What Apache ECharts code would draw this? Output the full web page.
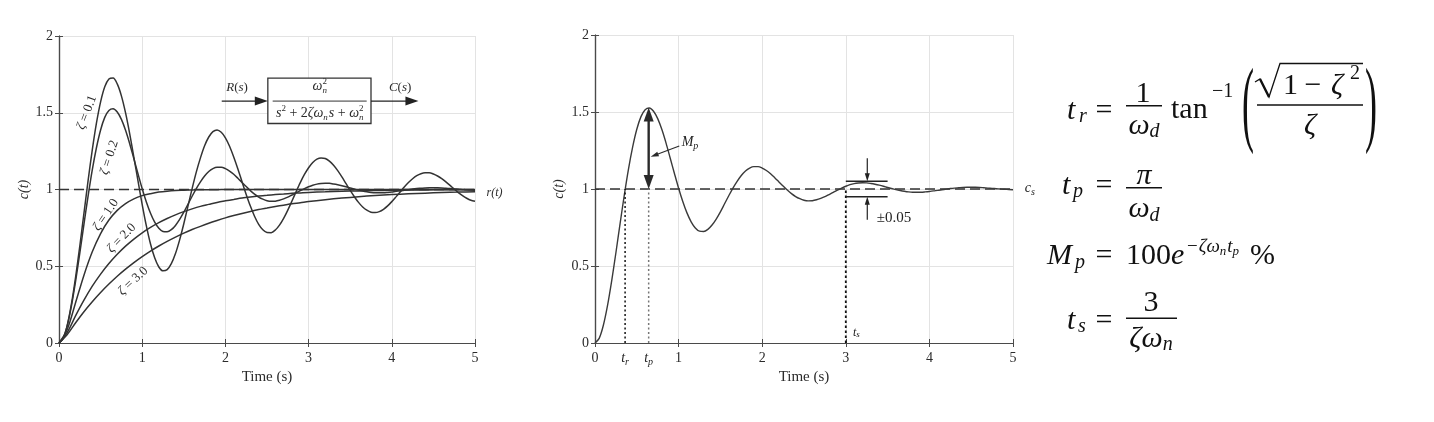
<!DOCTYPE html>
<html><head><meta charset="utf-8">
<script src="https://cdn.jsdelivr.net/npm/echarts@6/dist/echarts.min.js"></script>
<style>html,body{margin:0;padding:0;background:#fff}#c{width:1434px;height:422px}</style>
</head><body><div id="c"></div>
<script>
// ---------------- data ----------------
const timeFine = [0,0.05,0.1,0.15,0.2,0.25,0.3,0.35,0.4,0.45,0.5,0.55,0.6,0.65,0.7,0.75,0.8,0.85,0.9,0.95,1,
1.05,1.1,1.15,1.2,1.25,1.3,1.35,1.4,1.45,1.5,1.55,1.6,1.65,1.7,1.75,1.8,1.85,1.9,1.95,2,
2.05,2.1,2.15,2.2,2.25,2.3,2.35,2.4,2.45,2.5,2.55,2.6,2.65,2.7,2.75,2.8,2.85,2.9,2.95,3,
3.05,3.1,3.15,3.2,3.25,3.3,3.35,3.4,3.45,3.5,3.55,3.6,3.65,3.7,3.75,3.8,3.85,3.9,3.95,4,
4.05,4.1,4.15,4.2,4.25,4.3,4.35,4.4,4.45,4.5,4.55,4.6,4.65,4.7,4.75,4.8,4.85,4.9,4.95,5];
const timeCoarse = [0,0.1,0.2,0.3,0.4,0.5,0.6,0.7,0.8,0.9,1,1.1,1.2,1.3,1.4,1.5,1.6,1.7,1.8,1.9,2,
2.1,2.2,2.3,2.4,2.5,2.6,2.7,2.8,2.9,3,3.2,3.4,3.6,3.8,4,4.2,4.4,4.6,4.8,5];

const zeta01 = [0,0.031,0.118,0.256,0.431,0.632,0.846,1.059,1.258,1.432,1.571,1.669,1.720,1.726,1.688,1.610,1.499,1.363,1.210,1.054,0.902,
0.763,0.645,0.555,0.495,0.470,0.478,0.517,0.583,0.672,0.777,0.892,1.006,1.113,1.206,1.285,1.342,1.377,1.388,1.373,1.337,
1.282,1.212,1.134,1.050,0.968,0.892,0.826,0.773,0.738,0.720,0.719,0.736,0.768,0.812,0.866,0.925,0.986,1.045,1.098,1.142,
1.176,1.198,1.206,1.202,1.185,1.158,1.123,1.082,1.038,0.994,0.953,0.916,0.886,0.865,0.852,0.850,0.856,0.871,0.893,0.921,
0.952,0.984,1.016,1.045,1.070,1.090,1.103,1.109,1.109,1.101,1.088,1.071,1.050,1.027,1.003,0.980,0.960,0.943,0.930,0.923];
const zeta02 = [0,0.030,0.115,0.244,0.405,0.586,0.775,0.959,1.128,1.272,1.388,1.470,1.515,1.526,1.505,1.457,1.386,1.298,1.200,1.101,1.005,
0.919,0.845,0.787,0.747,0.726,0.724,0.738,0.766,0.805,0.852,0.904,0.956,1.006,1.050,1.088,1.117,1.136,1.145,1.145,1.136,
1.120,1.099,1.073,1.046,1.019,0.993,0.970,0.951,0.937,0.927,0.923,0.924,0.930,0.939,0.950,0.964,0.978,0.993,1.006,1.018,
1.028,1.035,1.039,1.041,1.040,1.036,1.031,1.025,1.018,1.010,1.003,0.996,0.990,0.985,0.981,0.979,0.979,0.979,0.981,0.984,
0.988,0.991,0.995,0.999,1.003,1.006,1.008,1.010,1.011,1.011,1.011,1.010,1.008,1.006,1.004,1.002,1.000,0.998,0.997,0.995];
const zeta10 = [0,0.090,0.264,0.442,0.594,0.713,0.801,0.864,0.908,0.939,0.960,0.973,0.983,0.989,0.993,0.995,0.997,0.998,0.999,0.999,1.000,
1.000,1.000,1.000,1.000,1.000,1.000,1.000,1.000,1.000,1.000,1.000,1.000,1.000,1.000,1.000,1.000,1.000,1.000,1.000,1.000];
const zeta20 = [0,0.070,0.178,0.279,0.370,0.449,0.518,0.578,0.631,0.677,0.718,0.753,0.784,0.811,0.835,0.856,0.874,0.890,0.903,0.916,0.926,
0.935,0.944,0.951,0.957,0.962,0.967,0.971,0.975,0.978,0.981,0.985,0.989,0.991,0.993,0.995,0.996,0.997,0.998,0.998,0.999];
const zeta30 = [0,0.056,0.132,0.204,0.269,0.329,0.384,0.435,0.481,0.524,0.563,0.599,0.632,0.662,0.690,0.716,0.739,0.760,0.780,0.798,0.815,
0.830,0.844,0.857,0.869,0.879,0.889,0.898,0.907,0.914,0.922,0.934,0.944,0.953,0.961,0.967,0.972,0.976,0.980,0.983,0.986];
const stepResponse = zeta02;            // right panel: same under-damped response
const zetaNames = ['0.1','0.2','1.0','2.0','3.0'];
const refTime = [0, 5];
const refLevel = [1, 1];
const xTicks = [0,1,2,3,4,5];
const yTicks = [0,0.5,1,1.5,2];
const riseTime = 0.36, peakTime = 0.642, peakValue = 1.53, settleTime = 3.0;
const bandHigh = 1.05, bandLow = 0.95, bandEnd = 3.5;

// ---------------- helpers ----------------
const SERIF = '"Liberation Serif","Times New Roman",serif';
const INK = '#111', TXT = '#2b2b2b', CURVE = '#333';
function font(size, it){ return (it ? 'italic ' : '') + size + 'px ' + SERIF; }
const mc = document.createElement('canvas').getContext('2d');
function mw(s, size, it){ mc.font = font(size, it); return mc.measureText(s).width; }
function tx(s, x, base, size, it, align, color){
  return {type:'text', x:x, y:base - 0.24*size, z:110, silent:true,
    style:{text:s, font:font(size,it), fill:color||INK, align:align||'left', verticalAlign:'middle'}};
}
// items: [text, size, italic, dy, gapBefore]
function run(x, base, items, align, color){
  let total = 0;
  items.forEach(it => { total += (it[4]||0) + mw(it[0], it[1], it[2]); });
  let cx = align === 'center' ? x - total/2 : (align === 'right' ? x - total : x);
  const out = [];
  items.forEach(it => { cx += it[4]||0; out.push(tx(it[0], cx, base + (it[3]||0), it[1], it[2], 'left', color)); cx += mw(it[0], it[1], it[2]); });
  return out;
}
function seg(a, b, w, color){ return {type:'line', z:110, silent:true, shape:{x1:a[0],y1:a[1],x2:b[0],y2:b[1]}, style:{stroke:color||INK, lineWidth:w}}; }
function head(tip, from, len, wid, color){
  const dx = tip[0]-from[0], dy = tip[1]-from[1], L = Math.hypot(dx,dy), ux = dx/L, uy = dy/L;
  const bx = tip[0]-ux*len, by = tip[1]-uy*len, px = -uy*wid/2, py = ux*wid/2;
  return {type:'polygon', z:111, silent:true, shape:{points:[[tip[0],tip[1]],[bx+px,by+py],[bx-px,by-py]]}, style:{fill:color||INK}};
}
function arrow(from, tip, len, wid, lw, color, both){
  const dx = tip[0]-from[0], dy = tip[1]-from[1], L = Math.hypot(dx,dy), ux = dx/L, uy = dy/L;
  const a = both ? [from[0]+ux*len*0.8, from[1]+uy*len*0.8] : from;
  const b = [tip[0]-ux*len*0.8, tip[1]-uy*len*0.8];
  const out = [seg(a, b, lw, color), head(tip, from, len, wid, color)];
  if (both) out.push(head(from, tip, len, wid, color));
  return out;
}
function pairs(ts, vs){ return ts.map((t,i) => [t, vs[i]]); }

// ---------------- chart ----------------
const chart = echarts.init(document.getElementById('c'), null, {renderer:'canvas'});
const axisLineStyle = {show:true, lineStyle:{color:'#4a4a4a', width:1.2}};
const tickStyle = {show:true, inside:true, length:4, lineStyle:{color:'#4a4a4a'}};
const labelStyle = {fontFamily:SERIF, fontSize:14, color:TXT};
function xAx(g, main){
  return {gridIndex:g, type:'value', min:0, max:5, interval:1, position: main?'bottom':'top',
    axisLine:axisLineStyle, axisTick:tickStyle,
    axisLabel: main ? Object.assign({margin:8, formatter: v => xTicks.includes(v) ? String(v) : ''}, labelStyle) : {show:false},
    splitLine: main ? {show:true, lineStyle:{color:'#e3e3e3', width:1}} : {show:false},
    name: main ? 'Time (s)' : '', nameLocation:'middle', nameGap:26,
    nameTextStyle:{fontFamily:SERIF, fontSize:15, color:TXT}};
}
function yAx(g, main){
  return {gridIndex:g, type:'value', min:0, max:2, interval:0.5, position: main?'left':'right',
    axisLine:axisLineStyle, axisTick:tickStyle,
    axisLabel: main ? Object.assign({margin:6, formatter: v => yTicks.includes(v) ? String(v) : ''}, labelStyle) : {show:false},
    splitLine: main ? {show:true, lineStyle:{color:'#e3e3e3', width:1}} : {show:false},
    name: main ? 'c(t)' : '', nameLocation:'middle', nameRotate:90, nameGap: g === 0 ? 27 : 29,
    nameTextStyle:{fontFamily:SERIF, fontSize:14, fontStyle:'italic', color:TXT}};
}
const base = {type:'line', showSymbol:false, symbol:'none', silent:true, animation:false, smooth:0.3};
function curve(g, ts, vs, extra){
  return Object.assign({}, base, {xAxisIndex: g*2, yAxisIndex: g*2, data: pairs(ts, vs),
    lineStyle:{color:CURVE, width:1.5}}, extra||{});
}
const dashRef = {smooth:false, lineStyle:{color:'#333', width:1.5, type:[10,5]}, z:1};
const option = {
  animation:false,
  backgroundColor:'#fff',
  grid:[{left:59, top:36, width:416, height:307}, {left:595, top:35, width:418, height:308}],
  xAxis:[xAx(0,true), xAx(0,false), xAx(1,true), xAx(1,false)],
  yAxis:[yAx(0,true), yAx(0,false), yAx(1,true), yAx(1,false)],
  series:[
    curve(0, refTime, refLevel, dashRef),
    curve(0, timeFine, zeta01),
    curve(0, timeFine, zeta02),
    curve(0, timeCoarse, zeta10),
    curve(0, timeCoarse, zeta20),
    curve(0, timeCoarse, zeta30),
    curve(1, refTime, refLevel, dashRef),
    curve(1, timeFine, stepResponse, {lineStyle:{color:'#3a3a3a', width:1.4}}),
    curve(1, [riseTime, riseTime], [0, 1], {smooth:false, lineStyle:{color:'#111', width:1.5, type:[2,2.5]}}),
    curve(1, [peakTime, peakTime], [0, 1], {smooth:false, lineStyle:{color:'#777', width:1.5, type:[2,2.5]}}),
    curve(1, [settleTime, settleTime], [0, 1], {smooth:false, lineStyle:{color:'#111', width:1.8, type:[2.5,2.5]}}),
    curve(1, [settleTime, bandEnd], [bandHigh, bandHigh], {smooth:false, lineStyle:{color:'#222', width:1.6}}),
    curve(1, [settleTime, bandEnd], [bandLow, bandLow], {smooth:false, lineStyle:{color:'#222', width:1.6}})
  ]
};
chart.setOption(option);

// ---------------- annotations ----------------
const P0 = (x, y) => chart.convertToPixel({gridIndex:0}, [x, y]);
const P1 = (x, y) => chart.convertToPixel({gridIndex:1}, [x, y]);
const G = [];

// zeta labels along curves (left panel)
const zetaLabelPos = [[0.32,1.505,69],[0.59,1.21,72],[0.55,0.84,56],[0.74,0.69,46],[0.88,0.41,43]];
zetaNames.forEach((nm, i) => {
  const p = P0(zetaLabelPos[i][0], zetaLabelPos[i][1]);
  G.push({type:'group', x:p[0], y:p[1], rotation: zetaLabelPos[i][2]*Math.PI/180, z:110,
    children: run(0, 4.5, [['ζ',13,true],[' = '+nm,13,false]], 'center', TXT)});
});
// r(t)
{ const p = P0(5.234, 0.962); G.push(tx('r(t)', p[0], p[1], 12, true, 'center', TXT)); }

// block diagram
{
  const a = P0(2.51, 1.725), b = P0(3.75, 1.43);
  G.push({type:'rect', z:105, silent:true, shape:{x:a[0], y:a[1], width:b[0]-a[0], height:b[1]-a[1]}, style:{fill:'#fff', stroke:'#333', lineWidth:1.3}});
  G.push(...arrow(P0(1.956,1.576), P0(2.51,1.576), 13, 9, 1.3, '#222'));
  G.push(...arrow(P0(3.75,1.576), P0(4.32,1.576), 13, 9, 1.3, '#222'));
  const rs = P0(2.14, 1.641), cs = P0(4.10, 1.641);
  G.push(...run(rs[0], rs[1], [['R',13,true],['(',13],['s',13,true],[')',13]], 'center', TXT));
  G.push(...run(cs[0], cs[1], [['C',13,true],['(',13],['s',13,true],[')',13]], 'center', TXT));
  const f1 = P0(2.568, 1.576), f2 = P0(3.698, 1.576);
  G.push(seg(f1, f2, 1, '#333'));
  const nu = P0(3.134, 1.648), de = P0(3.134, 1.472);
  G.push(...run(nu[0], nu[1], [['ω',14,true],['n',9,true,3],['2',9,false,-6,-mw('n',9,true)]], 'center', TXT));
  G.push(...run(de[0], de[1], [['s',14,true],['2',9,false,-6],[' + 2',14,false],['ζ',14,true],['ω',14,true],['n',9,true,3],['s',14,true,0,1],[' + ',14,false],['ω',14,true],['n',9,true,3],['2',9,false,-6,-mw('n',9,true)]], 'center', TXT));
}

// right panel annotations
{
  G.push(...arrow(P1(peakTime,1.0), P1(peakTime,peakValue), 14, 10, 2.4, '#2a2a2a', true));
  G.push(...arrow(P1(1.008,1.279), P1(0.666,1.209), 8, 5, 1.1, '#2a2a2a'));
  const mp = P1(1.037, 1.279);
  G.push(...run(mp[0], mp[1], [['M',14,true],['p',10,true,3]], 'left', '#222'));
  G.push(...arrow(P1(3.257,1.2), P1(3.257,bandHigh), 8, 5, 1.2, '#222'));
  G.push(...arrow(P1(3.257,0.8), P1(3.257,bandLow), 8, 5, 1.2, '#222'));
  const pm = P1(3.37, 0.791);
  G.push(tx('±0.05', pm[0], pm[1], 15, false, 'left', '#222'));
  const ts = P1(3.085, 0.05);
  G.push(...run(ts[0], ts[1], [['t',12,true],['s',9,true,2]], 'left', '#222'));
  const cs = P1(5.14, 0.985);
  G.push(...run(cs[0], cs[1], [['c',14,true],['s',10,true,3]], 'left', '#222'));
  const tr = P1(riseTime, 0), tp = P1(peakTime, 0);
  G.push(...run(tr[0], 362, [['t',14,true],['r',10,true,3]], 'center', '#222'));
  G.push(...run(tp[0], 362, [['t',14,true],['p',10,true,3]], 'center', '#222'));
}

// formulas (right side)
function paren(ch, x, cy){
  return {type:'text', x:x, y:cy, scaleY:2.65, z:110, silent:true,
    style:{text:ch, font:font(36,false), fill:INK, align:'center', verticalAlign:'middle'}};
}
function bar(x1, x2, y){ return seg([x1,y],[x2,y],1.5,INK); }
// t_r
G.push(tx('t',1067,118,30,true), tx('r',1079,122,20,true), tx('=',1104,118,30,false,'center'));
G.push(tx('1',1143,101.5,30,false,'center'), bar(1126,1162,105.7));
G.push(...run(1144,133.3,[['ω',30,true],['d',20,true,3.5]],'center'));
G.push(tx('tan',1171,117.7,30), tx('−1',1212,97,20));
G.push(paren('(',1248,109), paren(')',1371,109));
G.push({type:'polyline', z:110, silent:true, shape:{points:[[1255,82],[1260,79],[1269,97],[1280,63.5],[1363,63.5]]}, style:{stroke:INK, lineWidth:1.3, fill:null}});
G.push(seg([1260,79],[1269,97],2.4,INK));
G.push(tx('1',1283,93.3,30), tx('−',1313,93.3,30,false,'center'), tx('ζ',1331,93.3,30,true), tx('2',1350,79,20));
G.push(bar(1257,1363,105), tx('ζ',1310,133,30,true,'center'));
// t_p
G.push(tx('t',1062,193,30,true), tx('p',1073,197,20,true), tx('=',1104,193,30,false,'center'));
G.push(tx('π',1144,183,30,true,'center'), bar(1126,1162,187.7));
G.push(...run(1144,216.7,[['ω',30,true],['d',20,true,3.5]],'center'));
// M_p
G.push(tx('M',1047,263.3,30,true), tx('p',1075,268,20,true), tx('=',1104,263.3,30,false,'center'));
G.push(tx('100',1126,263.3,30), tx('e',1171,263.3,30,true));
G.push(...run(1187,251.5,[['−',19,false],['ζ',19,true,0,1],['ω',19,true],['n',13,true,3],['t',19,true,0,1],['p',13,true,3]],'left'));
G.push(tx('%',1250,263.3,30));
// t_s
G.push(tx('t',1067,328.3,30,true), tx('s',1078,332,20,true), tx('=',1104,328.3,30,false,'center'));
G.push(tx('3',1151,310,30,false,'center'), bar(1126,1177,318.3));
G.push(...run(1151,346,[['ζ',30,true],['ω',30,true],['n',20,true,3.5]],'center'));

chart.setOption({graphic: G});
</script>
</body></html>
